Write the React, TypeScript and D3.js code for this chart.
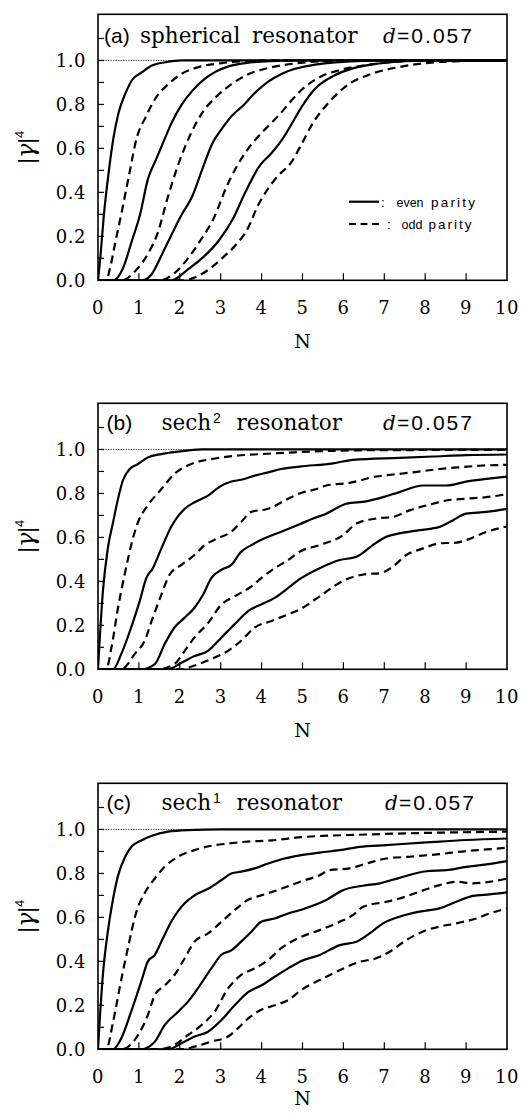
import * as d3 from 'd3';

// ---- data: |gamma|^4 vs N ----
// (a) spherical resonator
const sphE0 = [[0,0],[0.06,0.11],[0.14,0.29],[0.26,0.49],[0.38,0.65],[0.5,0.76],[0.67,0.85],[0.83,0.91],[1.08,0.947],[1.32,0.977],[1.65,0.992],[2.05,1.0],[10,1.0]];
const sphO1 = [[0,0],[0.2,0],[0.3,0.06],[0.42,0.17],[0.59,0.32],[0.75,0.47],[0.95,0.65],[1.16,0.74],[1.4,0.826],[1.73,0.894],[2.05,0.94],[2.46,0.97],[3.03,0.988],[3.6,0.997],[4.2,1.0],[10,1.0]];
const sphE2 = [[0,0],[0.38,0],[0.6,0.05],[0.83,0.18],[1.03,0.3],[1.22,0.46],[1.42,0.55],[1.6,0.63],[1.81,0.72],[2.05,0.8],[2.32,0.865],[2.6,0.915],[2.87,0.948],[3.19,0.973],[3.6,0.988],[4.2,0.997],[5,1.0],[10,1.0]];
const sphO3 = [[0,0],[0.58,0],[0.95,0.05],[1.25,0.13],[1.45,0.21],[1.71,0.38],[1.95,0.52],[2.24,0.655],[2.56,0.765],[2.89,0.835],[3.25,0.89],[3.7,0.94],[4.0,0.958],[4.5,0.978],[5.0,0.99],[5.6,0.997],[6.5,1.0],[10,1.0]];
const sphE4 = [[0,0],[1.08,0],[1.32,0.03],[1.57,0.12],[1.81,0.212],[2.05,0.3],[2.3,0.38],[2.54,0.5],[2.79,0.62],[3.03,0.69],[3.28,0.75],[3.52,0.79],[3.85,0.855],[4.17,0.905],[4.5,0.94],[4.82,0.962],[5.07,0.973],[5.6,0.988],[6.3,0.997],[7,1.0],[10,1.0]];
const sphO5 = [[0,0],[1.5,0],[1.85,0.03],[2.2,0.1],[2.5,0.18],[2.85,0.29],[3.13,0.42],[3.4,0.52],[3.6,0.58],[3.85,0.64],[4.1,0.69],[4.42,0.75],[4.74,0.82],[5.0,0.87],[5.43,0.925],[6.0,0.96],[6.58,0.98],[7.2,0.993],[8,1.0],[10,1.0]];
const sphE6 = [[0,0],[1.8,0],[2.2,0.05],[2.6,0.11],[2.95,0.18],[3.3,0.28],[3.6,0.4],[3.95,0.52],[4.25,0.58],[4.5,0.64],[4.7,0.7],[4.95,0.78],[5.3,0.87],[5.76,0.93],[6.25,0.965],[6.82,0.985],[7.5,0.997],[8.2,1.0],[10,1.0]];
const sphO7 = [[0,0],[2.07,0],[2.45,0.02],[2.85,0.07],[3.03,0.1],[3.34,0.155],[3.66,0.235],[3.91,0.34],[4.15,0.415],[4.4,0.475],[4.72,0.535],[4.95,0.61],[5.27,0.72],[5.6,0.8],[5.76,0.832],[6.17,0.897],[6.58,0.932],[7.39,0.971],[8.2,0.991],[9,0.998],[9.6,1.0],[10,1.0]];

// (b) sech^2 resonator
const sech2E0 = [[0,0],[0.04,0.13],[0.12,0.355],[0.24,0.55],[0.37,0.67],[0.49,0.776],[0.61,0.86],[0.77,0.91],[0.98,0.934],[1.22,0.964],[1.55,0.979],[1.96,0.99],[2.53,1.0],[10,1.0]];
const sech2O1 = [[0,0],[0.2,0],[0.33,0.1],[0.49,0.28],[0.65,0.43],[0.86,0.6],[0.98,0.67],[1.22,0.746],[1.55,0.82],[1.87,0.889],[2.28,0.934],[2.77,0.956],[3.34,0.971],[3.99,0.979],[4.8,0.987],[5.75,0.994],[7,0.997],[10,0.998]];
const sech2E2 = [[0,0],[0.37,0],[0.57,0.07],[0.81,0.19],[1.02,0.31],[1.18,0.415],[1.34,0.46],[1.55,0.55],[1.79,0.648],[2.12,0.73],[2.36,0.76],[2.69,0.79],[2.97,0.83],[3.26,0.854],[3.5,0.862],[3.83,0.881],[4.16,0.896],[4.48,0.911],[4.93,0.922],[5.75,0.937],[6.23,0.953],[7.37,0.962],[8.19,0.968],[9.0,0.974],[10,0.977]];
const sech2O3 = [[0,0],[0.57,0],[0.9,0.07],[1.14,0.13],[1.34,0.235],[1.55,0.34],[1.75,0.43],[2.04,0.475],[2.36,0.52],[2.61,0.565],[2.93,0.596],[3.26,0.626],[3.5,0.67],[3.75,0.716],[4.16,0.73],[4.65,0.776],[4.93,0.8],[5.34,0.82],[5.58,0.836],[6.15,0.848],[6.8,0.877],[7.21,0.886],[7.7,0.896],[8.35,0.911],[8.84,0.919],[9.33,0.926],[10,0.93]];
const sech2E4 = [[0,0],[1.06,0],[1.39,0.024],[1.63,0.115],[1.87,0.19],[2.12,0.235],[2.36,0.28],[2.57,0.34],[2.77,0.415],[3.02,0.453],[3.26,0.475],[3.5,0.535],[3.75,0.565],[4.07,0.596],[4.48,0.626],[4.93,0.66],[5.26,0.686],[5.58,0.708],[6.07,0.753],[6.56,0.764],[6.97,0.783],[7.37,0.806],[7.95,0.836],[8.52,0.836],[9.0,0.854],[9.5,0.866],[10,0.877]];
const sech2O5 = [[0,0],[1.47,0],[1.87,0.024],[2.12,0.084],[2.36,0.145],[2.69,0.21],[3.02,0.295],[3.34,0.332],[3.75,0.377],[3.99,0.415],[4.32,0.46],[4.65,0.497],[4.93,0.535],[5.42,0.565],[5.99,0.61],[6.32,0.663],[6.8,0.686],[7.21,0.693],[7.62,0.723],[8.19,0.753],[8.52,0.768],[9.0,0.776],[9.5,0.783],[10,0.797]];
const sech2E6 = [[0,0],[1.71,0],[2.04,0.03],[2.36,0.06],[2.69,0.084],[3.02,0.145],[3.34,0.205],[3.67,0.265],[3.99,0.295],[4.32,0.325],[4.65,0.37],[4.93,0.41],[5.42,0.46],[5.91,0.497],[6.32,0.512],[6.72,0.565],[7.05,0.603],[7.37,0.618],[7.86,0.633],[8.35,0.648],[8.68,0.678],[9.0,0.708],[9.5,0.716],[10,0.73]];
const sech2O7 = [[0,0],[2.04,0],[2.36,0.017],[2.77,0.047],[3.18,0.084],[3.5,0.13],[3.83,0.19],[4.24,0.22],[4.65,0.25],[4.93,0.272],[5.42,0.332],[5.83,0.385],[6.15,0.415],[6.56,0.433],[6.89,0.437],[7.21,0.467],[7.54,0.52],[7.95,0.55],[8.35,0.573],[8.76,0.576],[9.0,0.588],[9.5,0.625],[10,0.65]];

// (c) sech^1 resonator
const sech1E0 = [[0,0],[0.04,0.126],[0.12,0.34],[0.24,0.535],[0.37,0.686],[0.49,0.79],[0.65,0.87],[0.81,0.92],[1.06,0.95],[1.3,0.97],[1.71,0.99],[2.2,0.997],[3,1.0],[10,1.0]];
const sech1O1 = [[0,0],[0.2,0],[0.37,0.126],[0.53,0.28],[0.73,0.46],[0.94,0.626],[1.14,0.71],[1.39,0.777],[1.63,0.83],[1.96,0.876],[2.36,0.906],[2.77,0.926],[3.18,0.936],[3.59,0.944],[4.24,0.95],[4.97,0.965],[6.56,0.977],[8.19,0.985],[10,0.99]];
const sech1E2 = [[0,0],[0.37,0],[0.57,0.05],[0.81,0.171],[1.06,0.31],[1.22,0.4],[1.39,0.43],[1.55,0.49],[1.79,0.58],[2.12,0.664],[2.36,0.7],[2.69,0.73],[3.02,0.77],[3.26,0.8],[3.5,0.808],[3.83,0.823],[4.16,0.845],[4.56,0.868],[4.97,0.883],[5.42,0.895],[5.91,0.906],[6.4,0.921],[7.05,0.929],[8.03,0.941],[9.0,0.952],[10,0.959]];
const sech1O3 = [[0,0],[0.57,0],[0.98,0.065],[1.22,0.156],[1.39,0.247],[1.63,0.29],[1.87,0.338],[2.12,0.414],[2.36,0.49],[2.69,0.527],[3.02,0.58],[3.34,0.633],[3.67,0.68],[3.99,0.7],[4.48,0.73],[4.97,0.764],[5.42,0.792],[5.66,0.815],[6.15,0.823],[6.56,0.845],[7.05,0.868],[7.62,0.876],[8.35,0.888],[9.0,0.902],[9.5,0.909],[10,0.917]];
const sech1E4 = [[0,0],[1.06,0],[1.39,0.035],[1.63,0.11],[1.96,0.171],[2.2,0.217],[2.44,0.277],[2.77,0.368],[3.02,0.43],[3.26,0.45],[3.5,0.49],[3.75,0.535],[3.99,0.58],[4.32,0.595],[4.65,0.618],[4.97,0.635],[5.58,0.679],[5.99,0.724],[6.48,0.744],[6.89,0.755],[7.37,0.78],[8.03,0.81],[8.52,0.815],[9.0,0.83],[9.5,0.841],[10,0.856]];
const sech1O5 = [[0,0],[1.47,0],[1.87,0.02],[2.2,0.065],[2.53,0.11],[2.85,0.171],[3.18,0.277],[3.5,0.338],[3.83,0.368],[4.16,0.406],[4.48,0.46],[4.73,0.49],[4.97,0.512],[5.42,0.542],[5.91,0.58],[6.23,0.61],[6.48,0.648],[7.05,0.671],[7.37,0.686],[7.86,0.717],[8.35,0.747],[8.76,0.762],[9.17,0.755],[9.58,0.762],[10,0.777]];
const sech1E6 = [[0,0],[1.71,0],[2.04,0.027],[2.36,0.058],[2.69,0.08],[3.02,0.133],[3.34,0.2],[3.67,0.26],[3.99,0.29],[4.32,0.33],[4.65,0.368],[4.97,0.402],[5.42,0.429],[5.91,0.474],[6.32,0.489],[6.64,0.527],[6.97,0.573],[7.37,0.603],[7.86,0.626],[8.35,0.641],[8.76,0.671],[9.17,0.698],[9.58,0.705],[10,0.714]];
const sech1O7 = [[0,0],[2.04,0],[2.36,0.012],[2.77,0.035],[3.18,0.058],[3.42,0.095],[3.67,0.14],[3.99,0.18],[4.32,0.2],[4.65,0.224],[4.97,0.27],[5.42,0.315],[5.91,0.36],[6.4,0.398],[6.8,0.414],[7.13,0.444],[7.54,0.497],[8.03,0.542],[8.35,0.558],[8.76,0.573],[9.25,0.595],[9.58,0.618],[10,0.641]];

const xTickValues = d3.range(0, 11);
const xTickLabels = ['0', '1', '2', '3', '4', '5', '6', '7', '8', '9', '10'];
const yTickValues = [0, 0.2, 0.4, 0.6, 0.8, 1.0];
const yTickLabels = ['0.0', '0.2', '0.4', '0.6', '0.8', '1.0'];
const yMinorTicks = [0.1, 0.3, 0.5, 0.7, 0.9, 1.1];
const legendLabels = ['even', 'odd'];

const W = 521;
const H = 1115;
const LEFT = 98;
const RIGHT = 507;
const PH = 266;
const Y_MAX = 1.21;

const serif = "'DejaVu Serif', 'Liberation Serif', serif";
const sans = "'Liberation Sans', Arial, Helvetica, sans-serif";

const Panel = ({ id, top, curves, nDrop, titleDy, children }) => {
  const x = d3.scaleLinear().domain([0, 10]).range([LEFT, RIGHT]);
  const y = d3.scaleLinear().domain([0, Y_MAX]).range([top + PH, top]);
  const line = d3.line().x(d => x(d[0])).y(d => y(d[1])).curve(d3.curveMonotoneX);
  const bottom = y(0);
  const cy = top + PH / 2;

  return (
    <g>
      <defs>
        <clipPath id={id}>
          <rect x={LEFT} y={top} width={RIGHT - LEFT} height={PH} />
        </clipPath>
      </defs>

      {/* dotted reference at 1.0 */}
      <line x1={LEFT} x2={RIGHT} y1={y(1)} y2={y(1)} stroke="#555" strokeWidth={1} strokeDasharray="1.5,1" />

      <g clipPath={`url(#${id})`}>
        {curves.map((c, i) => (
          <path key={i} d={line(c)} fill="none" stroke="#000" strokeWidth={2.2}
            strokeDasharray={i % 2 ? '8,5' : null} strokeLinejoin="round" />
        ))}
      </g>

      <rect x={LEFT} y={top} width={RIGHT - LEFT} height={PH} fill="none" stroke="#000" strokeWidth={1.6} />

      {/* ticks, inward */}
      {xTickValues.slice(1, -1).map(v => (
        <line key={'xt' + v} x1={x(v)} x2={x(v)} y1={bottom} y2={bottom - 7} stroke="#000" strokeWidth={1.2} />
      ))}
      {yTickValues.concat(yMinorTicks).map(v => (
        <line key={'yt' + v} x1={LEFT} x2={LEFT + 6} y1={y(v)} y2={y(v)} stroke="#000" strokeWidth={1.2} />
      ))}

      {xTickValues.map((v, i) => (
        <text key={'xl' + v} x={x(v)} y={bottom + 34} textAnchor="middle" fontFamily={serif} fontSize={18} letterSpacing={0.5}>
          {xTickLabels[i]}
        </text>
      ))}
      {yTickValues.map((v, i) => (
        <text key={'yl' + v} x={86} y={y(v)} dy="0.36em" textAnchor="end" fontFamily={serif} fontSize={18} letterSpacing={0.5}>
          {yTickLabels[i]}
        </text>
      ))}

      <text x={(LEFT + RIGHT) / 2} y={bottom + nDrop} textAnchor="middle" fontFamily={serif} fontSize={19}>N</text>

      <text transform={`translate(34,${cy}) rotate(-90)`} textAnchor="middle" fontFamily={serif} fontSize={24}>
        <tspan fontFamily={sans} fontSize={22}>|</tspan>
        <tspan fontStyle="italic">γ</tspan>
        <tspan fontFamily={sans} fontSize={22}>|</tspan>
        <tspan fontFamily={sans} fontSize={13} dy={-10}>4</tspan>
      </text>

      {children(top + titleDy)}
    </g>
  );
};

const DValue = ({ x, by }) => (
  <g>
    <text x={x} y={by} fontFamily={serif} fontStyle="italic" fontSize={20}>d</text>
    <text x={x + 14} y={by} fontFamily={sans} fontSize={21} textLength={75} lengthAdjust="spacing">=0.057</text>
  </g>
);

const App = () => {
  const solidY = 201.7;
  const dashY = 224;
  const lf = 13.5;
  return (
    <svg width={W} height={H} style={{ position: 'absolute', left: 0, top: 0, background: '#fff' }}>
      <rect width={W} height={H} fill="#fff" />

      <Panel id="pa" top={14.3} nDrop={68} titleDy={29}
        curves={[sphE0, sphO1, sphE2, sphO3, sphE4, sphO5, sphE6, sphO7]}>
        {by => (
          <g>
            <text x={104} y={by} fontFamily={sans} fontSize={21}>(a)</text>
            <text x={140} y={by} fontFamily={serif} fontSize={21.5}>spherical</text>
            <text x={252} y={by} fontFamily={serif} fontSize={21.5}>resonator</text>
            <DValue x={383} by={by} />
            <line x1={349} x2={379} y1={solidY} y2={solidY} stroke="#000" strokeWidth={2.2} />
            <line x1={349} x2={379} y1={dashY} y2={dashY} stroke="#000" strokeWidth={2.2} strokeDasharray="7,4.5" />
            <text x={381} y={solidY + 5} fontFamily={sans} fontSize={lf}>:</text>
            <text x={396.5} y={solidY + 5} fontFamily={sans} fontSize={lf} textLength={27} lengthAdjust="spacingAndGlyphs">{legendLabels[0]}</text>
            <text x={431} y={solidY + 5} fontFamily={sans} fontSize={lf} textLength={44} lengthAdjust="spacing">parity</text>
            <text x={387} y={dashY + 5} fontFamily={sans} fontSize={lf}>:</text>
            <text x={401.5} y={dashY + 5} fontFamily={sans} fontSize={lf} textLength={21} lengthAdjust="spacingAndGlyphs">{legendLabels[1]}</text>
            <text x={428.5} y={dashY + 5} fontFamily={sans} fontSize={lf} textLength={43} lengthAdjust="spacing">parity</text>
          </g>
        )}
      </Panel>

      <Panel id="pb" top={403.3} nDrop={67.4} titleDy={27}
        curves={[sech2E0, sech2O1, sech2E2, sech2O3, sech2E4, sech2O5, sech2E6, sech2O7]}>
        {by => (
          <g>
            <text x={106.5} y={by} fontFamily={sans} fontSize={21}>(b)</text>
            <text x={161.5} y={by} fontFamily={serif} fontSize={21.5}>sech</text>
            <text x={213} y={by - 7} fontFamily={sans} fontSize={14}>2</text>
            <text x={236.5} y={by} fontFamily={serif} fontSize={21.5}>resonator</text>
            <DValue x={383} by={by} />
          </g>
        )}
      </Panel>

      <Panel id="pc" top={783.3} nDrop={55.6} titleDy={27}
        curves={[sech1E0, sech1O1, sech1E2, sech1O3, sech1E4, sech1O5, sech1E6, sech1O7]}>
        {by => (
          <g>
            <text x={106.5} y={by} fontFamily={sans} fontSize={21}>(c)</text>
            <text x={161.5} y={by} fontFamily={serif} fontSize={21.5}>sech</text>
            <text x={213} y={by - 7} fontFamily={sans} fontSize={14}>1</text>
            <text x={236.5} y={by} fontFamily={serif} fontSize={21.5}>resonator</text>
            <DValue x={385} by={by} />
          </g>
        )}
      </Panel>
    </svg>
  );
};

export default App;
